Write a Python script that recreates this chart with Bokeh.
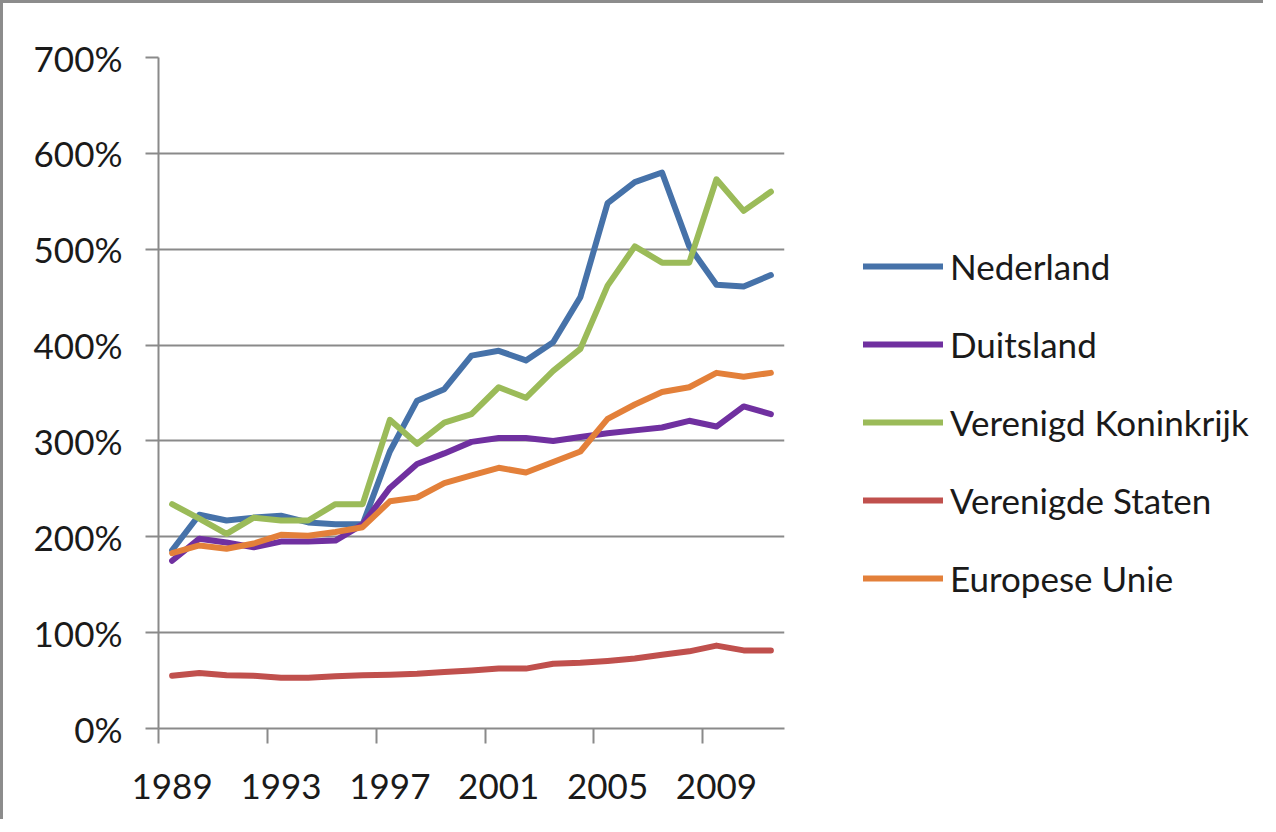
from bokeh.plotting import figure
from bokeh.layouts import row
from bokeh.models import Range1d, FixedTicker, PrintfTickFormatter, Legend, LegendItem
from bokeh.embed import file_html
from bokeh.resources import INLINE

years = [1989, 1990, 1991, 1992, 1993, 1994, 1995, 1996, 1997, 1998, 1999, 2000,
         2001, 2002, 2003, 2004, 2005, 2006, 2007, 2008, 2009, 2010, 2011]
nederland = [186, 223, 217, 220, 222, 215, 213, 213, 289, 342, 354, 389,
             394, 384, 403, 450, 548, 570, 580, 503, 463, 461, 473]
duitsland = [175, 198, 194, 189, 195, 195, 196, 213, 251, 276, 287, 299,
             303, 303, 300, 304, 308, 311, 314, 321, 315, 336, 328]
verenigd_koninkrijk = [234, 219, 203, 220, 217, 217, 234, 234, 322, 297, 319, 328,
                       356, 345, 373, 396, 462, 503, 486, 486, 573, 540, 560]
verenigde_staten = [55, 58, 55.5, 55, 53, 53, 54.5, 55.5, 56, 57, 59, 60.5,
                    62.5, 62.5, 67.5, 68.5, 70.5, 73, 77, 80.5, 86.5, 81.5, 81.5]
europese_unie = [183, 191, 187.5, 193, 202, 201, 205, 210, 237, 241, 256, 264,
                 272, 267, 278, 289, 323, 338, 351, 356, 371, 367, 371]

label_years = [1989, 1993, 1997, 2001, 2005, 2009]
y_ticks = [0, 100, 200, 300, 400, 500, 600, 700]

series = [
    ("Nederland", nederland, "#4672A9"),
    ("Duitsland", duitsland, "#7030A0"),
    ("Verenigd Koninkrijk", verenigd_koninkrijk, "#9BBB59"),
    ("Verenigde Staten", verenigde_staten, "#C0504D"),
    ("Europese Unie", europese_unie, "#E3803A"),
]

FONT = "Lato"
GRAY = "#8a8a8a"
FS = "35px"

p = figure(width=786, height=816, output_backend="svg", toolbar_location=None,
           x_range=Range1d(years[0] - 0.5, years[-1] + 0.5),
           y_range=Range1d(y_ticks[0], y_ticks[-1]),
           min_border_left=155, min_border_right=5, min_border_top=54,
           min_border_bottom=91)
p.outline_line_color = None
p.background_fill_color = "white"
p.border_fill_color = "white"

# x axis
p.xaxis.ticker = FixedTicker(ticks=label_years,
                             minor_ticks=[y - 0.5 for y in label_years])
p.xaxis.major_tick_out = 0
p.xaxis.major_tick_in = 0
p.xaxis.minor_tick_out = 15
p.xaxis.minor_tick_in = 0
p.xaxis.minor_tick_line_color = GRAY
p.xaxis.minor_tick_line_width = 2
p.xaxis.axis_line_color = GRAY
p.xaxis.axis_line_width = 2
p.xaxis.major_label_standoff = 30

# y axis
p.yaxis.ticker = FixedTicker(ticks=y_ticks)
p.yaxis.formatter = PrintfTickFormatter(format="%d%%")
p.yaxis.major_tick_out = 13
p.yaxis.major_tick_in = 0
p.yaxis.minor_tick_out = 0
p.yaxis.minor_tick_in = 0
p.yaxis.major_tick_line_color = GRAY
p.yaxis.major_tick_line_width = 2
p.yaxis.axis_line_color = GRAY
p.yaxis.axis_line_width = 2
p.yaxis.major_label_standoff = 23

for ax in (p.xaxis, p.yaxis):
    ax.major_label_text_font = FONT
    ax.major_label_text_font_size = FS
    ax.major_label_text_color = "#1a1a1a"

p.xgrid.grid_line_color = None
p.ygrid.grid_line_color = GRAY
p.ygrid.grid_line_width = 2

for name, vals, color in series:
    p.line(years, vals, line_color=color, line_width=6,
           line_join="round", line_cap="round")

# legend panel (separate figure so the legend is not clipped);
# its ranges keep the series themselves out of view, only the legend shows
pl = figure(width=474, height=816, output_backend="svg", toolbar_location=None,
            x_range=Range1d(0, 1), y_range=Range1d(0, 1),
            x_axis_location=None, y_axis_location=None, min_border=0)
pl.outline_line_color = None
pl.xgrid.grid_line_color = None
pl.ygrid.grid_line_color = None
pl.background_fill_color = "white"
pl.border_fill_color = "white"

items = []
for name, vals, color in series:
    r = pl.line(years, vals, line_color=color, line_width=6, line_cap="round")
    items.append(LegendItem(label=name, renderers=[r]))

legend = Legend(items=items, location=(74, 129), orientation="vertical",
                glyph_width=80, glyph_height=42, label_height=42,
                label_standoff=7, spacing=36, padding=0, margin=0,
                border_line_color=None, background_fill_alpha=0,
                label_text_font=FONT, label_text_font_size=FS,
                label_text_color="#1a1a1a")
pl.add_layout(legend, "center")

layout = row(p, pl, spacing=0)
layout.styles = {"border-left": "3px solid #8c8c8c", "border-top": "3px solid #8c8c8c"}

open("out.html", "w").write(file_html(layout, INLINE))
